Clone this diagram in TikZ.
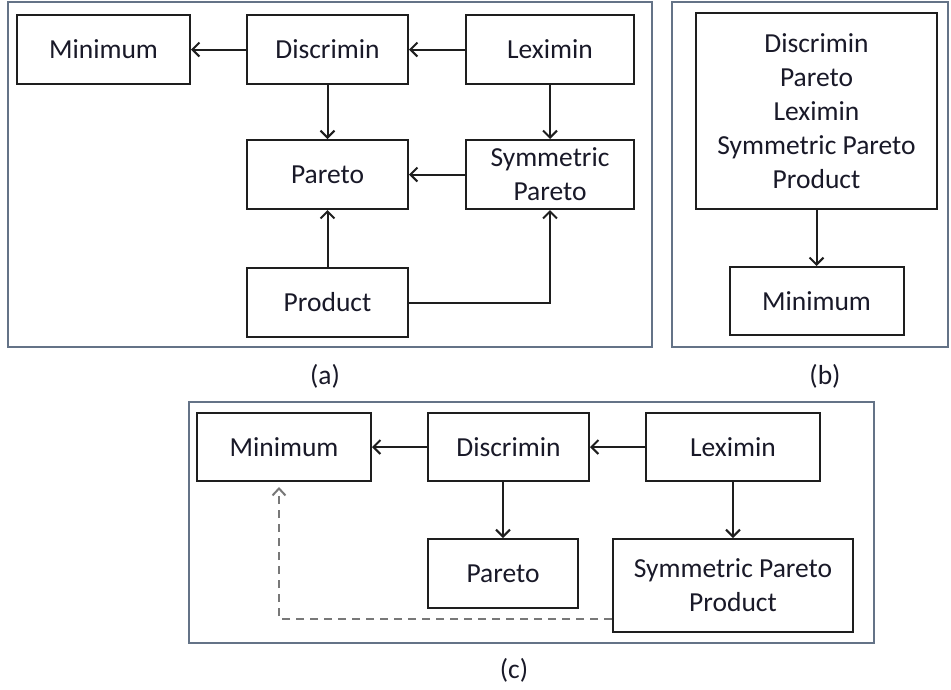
\documentclass[tikz,border=0pt]{standalone}
\usepackage{fontspec}
\setmainfont{Carlito}
\usetikzlibrary{arrows.meta,positioning,calc}
\definecolor{framec}{RGB}{100,115,135}
\definecolor{linec}{RGB}{30,30,30}
\definecolor{textc}{RGB}{25,25,40}
\definecolor{dashc}{RGB}{120,120,120}
\tikzset{
  box/.style={draw=linec, line width=2pt, inner sep=0pt, align=center, text=textc,
    font=\fontsize{27.5}{34}\selectfont},
  frame/.style={draw=framec, line width=1.6pt},
  arr/.style={draw=linec, line width=2pt, -{Straight Barb[length=7pt,width=14pt,line width=2pt]}},
  darr/.style={draw=dashc, line width=2.2pt, dash pattern=on 8pt off 6pt, -{Straight Barb[length=7pt,width=13pt,line width=2pt]}},
  lab/.style={text=textc, font=\fontsize{27.5}{34}\selectfont, inner sep=0pt}
}
\begin{document}
\begin{tikzpicture}[x=1pt,y=-1pt]
\useasboundingbox (0,0) rectangle (951,689);
% frames
\draw[frame] (8,2) rectangle (652,347);
\draw[frame] (672,2) rectangle (948,347);
\draw[frame] (189,402) rectangle (874,643);
% panel (a)
\node[box, minimum width=173, minimum height=69] (amin) at (103.5,49.5) {Minimum};
\node[box, minimum width=161, minimum height=69] (adis) at (327.5,49.5) {Discrimin};
\node[box, minimum width=168, minimum height=69] (alex) at (550,49.5) {Leximin};
\node[box, minimum width=161, minimum height=69] (apar) at (327.5,174.5) {Pareto};
\node[box, minimum width=168, minimum height=69] (asym) at (550,174.5) {Symmetric\\Pareto};
\node[box, minimum width=161, minimum height=69] (aprod) at (327.5,302.5) {Product};
\draw[arr] (adis.west) -- (amin.east);
\draw[arr] (alex.west) -- (adis.east);
\draw[arr] (adis.south) -- (apar.north);
\draw[arr] (alex.south) -- (asym.north);
\draw[arr] (asym.west) -- (apar.east);
\draw[arr] (aprod.north) -- (apar.south);
\draw[arr] (aprod.east) -| (asym.south);
\node[lab] (la) at (325,376) {(a)};
% panel (b)
\node[box, minimum width=241, minimum height=196] (ball) at (816.5,111) {Discrimin\\Pareto\\Leximin\\Symmetric Pareto\\Product};
\node[box, minimum width=174, minimum height=68] (bmin) at (816.5,301) {Minimum};
\draw[arr] (ball.south) -- (bmin.north);
\node[lab] (lb) at (825,376) {(b)};
% panel (c)
\node[box, minimum width=174, minimum height=68] (cmin) at (284,447) {Minimum};
\node[box, minimum width=161, minimum height=68] (cdis) at (508.5,447) {Discrimin};
\node[box, minimum width=174, minimum height=68] (clex) at (733,447) {Leximin};
\node[box, minimum width=150, minimum height=69] (cpar) at (503,573.5) {Pareto};
\node[box, minimum width=240, minimum height=93] (cspp) at (733,585.5) {Symmetric Pareto\\Product};
\draw[arr] (cdis.west) -- (cmin.east);
\draw[arr] (clex.west) -- (cdis.east);
\draw[arr] (cpar.north |- cdis.south) -- (cpar.north);
\draw[arr] (clex.south) -- (cspp.north);
\draw[darr] ([yshift=-33.5pt]cspp.west) -| ([xshift=-5pt,yshift=-5pt]cmin.south);
\node[lab] (lc) at (514,670) {(c)};
\end{tikzpicture}
\end{document}
